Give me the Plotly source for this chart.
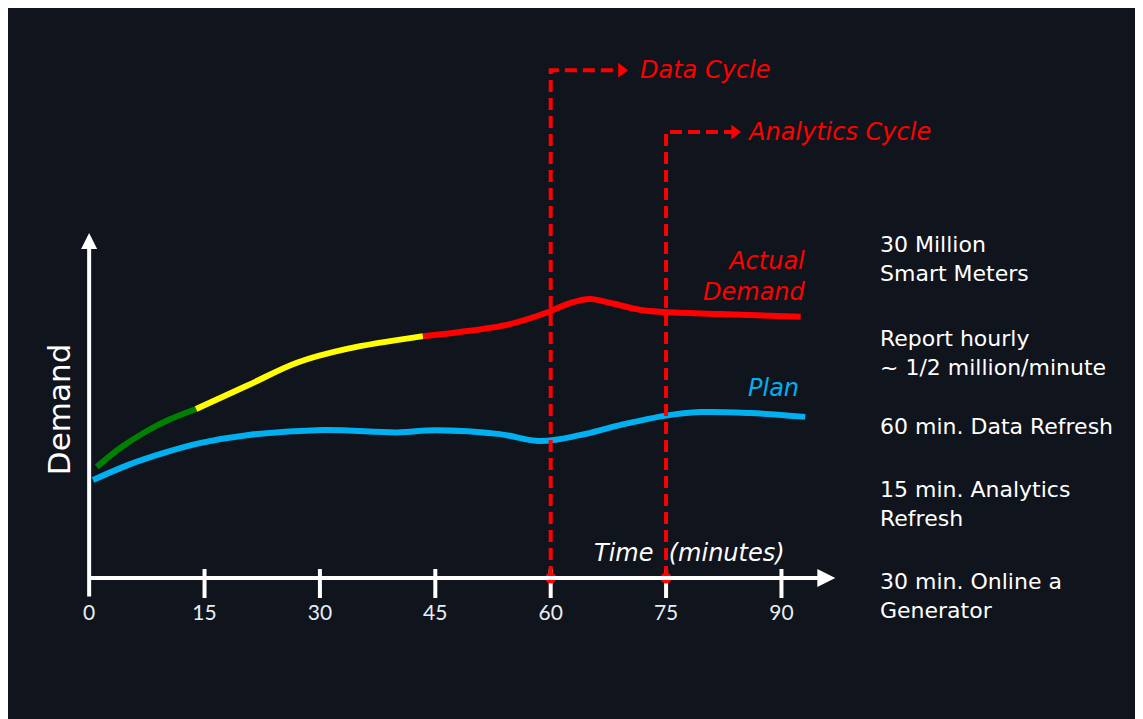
import plotly.graph_objects as go

# ---- data (minutes, demand units) ----
green_t = [1.0, 4.0, 7.5, 10.5, 13.9]
green_v = [32.2, 37.6, 42.6, 46.0, 49.0]
yellow_t = [13.9, 20.5, 27.0, 33.5, 43.4]
yellow_v = [49.0, 55.7, 62.4, 66.4, 70.1]
red_t = [43.4, 48.2, 54.7, 59.7, 62.5, 65.1, 67.8, 71.7, 74.8, 82.0, 92.5]
red_v = [70.1, 71.3, 73.6, 77.1, 79.7, 80.9, 79.7, 77.7, 77.1, 76.5, 75.7]
plan_t = [0.5, 5.1, 9.6, 14.4, 20.5, 30.4, 40.0, 45.0, 53.4, 58.6, 63.8, 69.0, 74.8, 79.5, 86.0, 93.1]
plan_v = [28.4, 32.8, 36.2, 39.1, 41.4, 42.9, 42.2, 42.8, 41.7, 39.7, 41.4, 44.3, 47.0, 48.1, 47.8, 46.7]
tick_vals = [0, 15, 30, 45, 60, 75, 90]
tick_text = ["0", "15", "30", "45", "60", "75", "90"]
cycle_t = [60, 75]
cycle_top = [147.2, 129.3]
cycle_arrow_t = [69.2, 83.9]
cycle_labels = ["Data Cycle", "Analytics Cycle"]
cycle_label_t = [71.4, 85.3]
notes = ["30 Million<br>Smart Meters", "Report hourly<br>~ 1/2 million/minute",
         "60 min. Data Refresh", "15 min. Analytics<br>Refresh",
         "30 min. Online a<br>Generator"]
notes_v = [92.5, 65.2, 43.8, 21.4, -5.2]

BG = "#10141c"
WHITE = "#ffffff"
RED = "#ff0000"
BLUE = "#00b0f0"
FONT = "DejaVu Sans"

fig = go.Figure()

# plan
fig.add_trace(go.Scatter(x=plan_t, y=plan_v, mode="lines", line=dict(color=BLUE, width=6, shape="spline"),
                         hoverinfo="skip", showlegend=False))
# actual demand segments
fig.add_trace(go.Scatter(x=green_t, y=green_v, mode="lines", line=dict(color="#008000", width=6, shape="spline"),
                         hoverinfo="skip", showlegend=False))
fig.add_trace(go.Scatter(x=yellow_t, y=yellow_v, mode="lines", line=dict(color="#ffff00", width=6, shape="spline"),
                         hoverinfo="skip", showlegend=False))
fig.add_trace(go.Scatter(x=red_t, y=red_v, mode="lines", line=dict(color=RED, width=6, shape="spline"),
                         hoverinfo="skip", showlegend=False))

# axis ticks
for tv in tick_vals[1:]:
    fig.add_shape(type="line", xref="x", yref="y", x0=tv, x1=tv, y0=-5.8, y1=2.6,
                  line=dict(color=WHITE, width=4), layer="below")

# axes arrows
fig.add_annotation(x=97, y=0, ax=0, ay=0, xref="x", yref="y", axref="x", ayref="y",
                   text="", showarrow=True, arrowhead=2, arrowsize=0.9, arrowwidth=4, arrowcolor=WHITE)
fig.add_annotation(x=0, y=100, ax=0, ay=-5.8, xref="x", yref="y", axref="x", ayref="y",
                   text="", showarrow=True, arrowhead=2, arrowsize=0.8, arrowwidth=4, arrowcolor=WHITE)

# cycle dashed paths
for ct, top, at, lab, lt in zip(cycle_t, cycle_top, cycle_arrow_t, cycle_labels, cycle_label_t):
    fig.add_trace(go.Scatter(x=[ct, ct, at], y=[0, top, top], mode="lines",
                             line=dict(color=RED, width=4, dash="12px,6px"),
                             hoverinfo="skip", showlegend=False))
    fig.add_trace(go.Scatter(x=[at], y=[top], mode="markers",
                             marker=dict(symbol="triangle-right", color=RED, size=13, line=dict(width=0)),
                             hoverinfo="skip", showlegend=False))
    fig.add_annotation(x=lt, y=top, xref="x", yref="y", text=lab, showarrow=False, xanchor="left",
                       font=dict(family=FONT, size=24, color=RED, style="italic"))

fig.add_trace(go.Scatter(x=cycle_t, y=[0, 0], mode="markers", marker=dict(color=RED, size=11),
                         hoverinfo="skip", showlegend=False))

# labels
fig.add_annotation(x=93.5, y=87.5, xref="x", yref="y", text="Actual<br>Demand", showarrow=False,
                   xanchor="right", align="right",
                   font=dict(family=FONT, size=24, color=RED, style="italic"))
fig.add_annotation(x=92.5, y=55.1, xref="x", yref="y", text="Plan", showarrow=False, xanchor="right",
                   font=dict(family=FONT, size=24, color=BLUE, style="italic"))
fig.add_annotation(x=65.4, y=7.2, xref="x", yref="y", text="Time  (minutes)", showarrow=False, xanchor="left",
                   font=dict(family=FONT, size=24, color=WHITE, style="italic"))
fig.add_annotation(x=-3.9, y=48.7, xref="x", yref="y", text="Demand", showarrow=False, textangle=-90,
                   font=dict(family=FONT, size=31, color=WHITE))

for txt, nv in zip(notes, notes_v):
    fig.add_annotation(x=102.6, y=nv, xref="x", yref="y", text=txt, showarrow=False, xanchor="left",
                       align="left", font=dict(family=FONT, size=22, color=WHITE))

fig.update_layout(
    width=1135, height=711,
    margin=dict(l=35, r=0, t=18, b=121),
    paper_bgcolor=BG, plot_bgcolor=BG,
    xaxis=dict(range=[-6, 137], showgrid=False, zeroline=False, showline=False,
               tickvals=tick_vals, ticktext=tick_text, ticks="",
               tickfont=dict(family="Lato", size=21, color="#e8eef5"), fixedrange=True),
    yaxis=dict(range=[-5.8, 160], showgrid=False, zeroline=False, showline=False,
               showticklabels=False, fixedrange=True),
    showlegend=False,
)

fig.write_html("out.html")
